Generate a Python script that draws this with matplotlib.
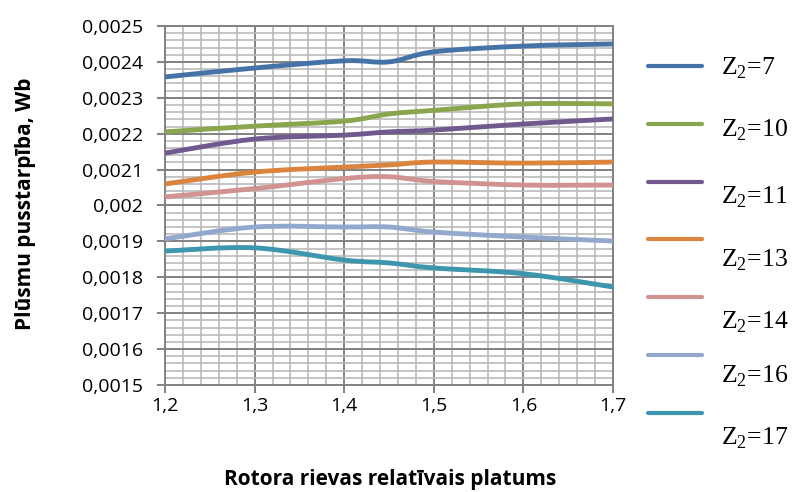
import matplotlib
matplotlib.use('Agg')
import matplotlib.pyplot as plt
import numpy as np
from matplotlib.path import Path
from matplotlib.patches import PathPatch
from matplotlib.lines import Line2D
from matplotlib.ticker import MultipleLocator, FuncFormatter

# Data
width_ratio = [1.2, 1.3, 1.4, 1.45, 1.5, 1.6, 1.7]
z7 = [0.002358, 0.002383, 0.002403, 0.002400, 0.002428, 0.002444, 0.002450]
z10 = [0.002205, 0.002221, 0.002235, 0.002255, 0.002265, 0.002283, 0.002283]
z11 = [0.002146, 0.002185, 0.002196, 0.002205, 0.002210, 0.002227, 0.002241]
z13 = [0.002060, 0.002093, 0.002107, 0.002113, 0.002121, 0.002118, 0.002121]
z14 = [0.002024, 0.002047, 0.002075, 0.002080, 0.002067, 0.002057, 0.002057]
z16 = [0.001907, 0.001940, 0.001940, 0.001940, 0.001926, 0.001912, 0.001901]
z17 = [0.001873, 0.001882, 0.001848, 0.001840, 0.001826, 0.001810, 0.001773]

series = [z7, z10, z11, z13, z14, z16, z17]
labels = ['7', '10', '11', '13', '14', '16', '17']
colors = ['#4572A7', '#89A54E', '#71588F', '#DB843D', '#D19392', '#92A8CD', '#3D96AE']

plt.rcParams['mathtext.fontset'] = 'custom'
plt.rcParams['mathtext.rm'] = 'Liberation Serif'


def smooth_path(x, y):
    # Excel-like smoothed line: cubic Bezier through the points
    pts = np.column_stack([x, y])
    verts = [pts[0]]
    codes = [Path.MOVETO]
    n = len(pts)
    for i in range(n - 1):
        p0 = pts[i - 1] if i > 0 else pts[i]
        p1 = pts[i]
        p2 = pts[i + 1]
        p3 = pts[i + 2] if i + 2 < n else pts[i + 1]
        c1 = p1 + (p2 - p0) / 6.0
        c2 = p2 - (p3 - p1) / 6.0
        verts += [c1, c2, p2]
        codes += [Path.CURVE4] * 3
    return Path(verts, codes)


fig = plt.figure(figsize=(7.96, 4.92), dpi=100)
ax = fig.add_axes([0.2073, 0.2175, 0.5628, 0.7297])

for vals, col in zip(series, colors):
    patch = PathPatch(smooth_path(width_ratio, vals), facecolor='none', edgecolor=col,
                      lw=3.5, capstyle='round', joinstyle='round', zorder=3)
    ax.add_patch(patch)

ax.set_xlim(1.2, 1.7)
ax.set_ylim(0.0015, 0.0025)
ax.xaxis.set_major_locator(MultipleLocator(0.1))
ax.xaxis.set_minor_locator(MultipleLocator(0.02))
ax.yaxis.set_major_locator(MultipleLocator(0.0001))
ax.yaxis.set_minor_locator(MultipleLocator(0.00002))
ax.xaxis.set_major_formatter(FuncFormatter(lambda v, p: f'{v:.1f}'.replace('.', ',')))
ax.yaxis.set_major_formatter(FuncFormatter(
    lambda v, p: f'{v:.4f}'.rstrip('0').replace('.', ',')))

ax.grid(which='major', color='#828282', lw=1.4, zorder=1)
ax.grid(which='minor', color='#bababa', lw=1.2, zorder=0)
for s in ax.spines.values():
    s.set_color('#828282')
    s.set_linewidth(1.4)
ax.tick_params(which='major', direction='out', length=6, width=1.4, color='#828282',
               labelsize=14, labelcolor='black')
ax.tick_params(axis='y', which='major', pad=10)
ax.tick_params(axis='x', which='major', pad=3)
ax.tick_params(which='minor', length=0)
for t in ax.get_xticklabels() + ax.get_yticklabels():
    t.set_family('Open Sans')

fig.text(0.032, 0.585, 'Plūsmu pusstarpība, Wb', rotation=90, ha='center', va='center',
         fontsize=15, fontweight='bold', family='Open Sans')
fig.text(0.49, 0.026, 'Rotora rievas relatīvais platums', ha='center', va='center',
         fontsize=15, fontweight='bold', family='Open Sans')

# Legend drawn by hand to mimic the Excel layout
line_y = [66, 124, 182, 239, 297, 355, 413]
text_y = [68, 130, 197, 260, 322, 376, 438]
for lab, col, ly, ty in zip(labels, colors, line_y, text_y):
    fig.add_artist(Line2D([648 / 796, 702 / 796], [1 - ly / 492, 1 - ly / 492],
                          transform=fig.transFigure, color=col, lw=3.0,
                          solid_capstyle='round'))
    fig.text(721 / 796, 1 - ty / 492, r'$\mathrm{Z}_2$=' + lab, ha='left', va='center',
             fontsize=18.5, family='Liberation Serif')

fig.savefig('out.png', dpi=100)
